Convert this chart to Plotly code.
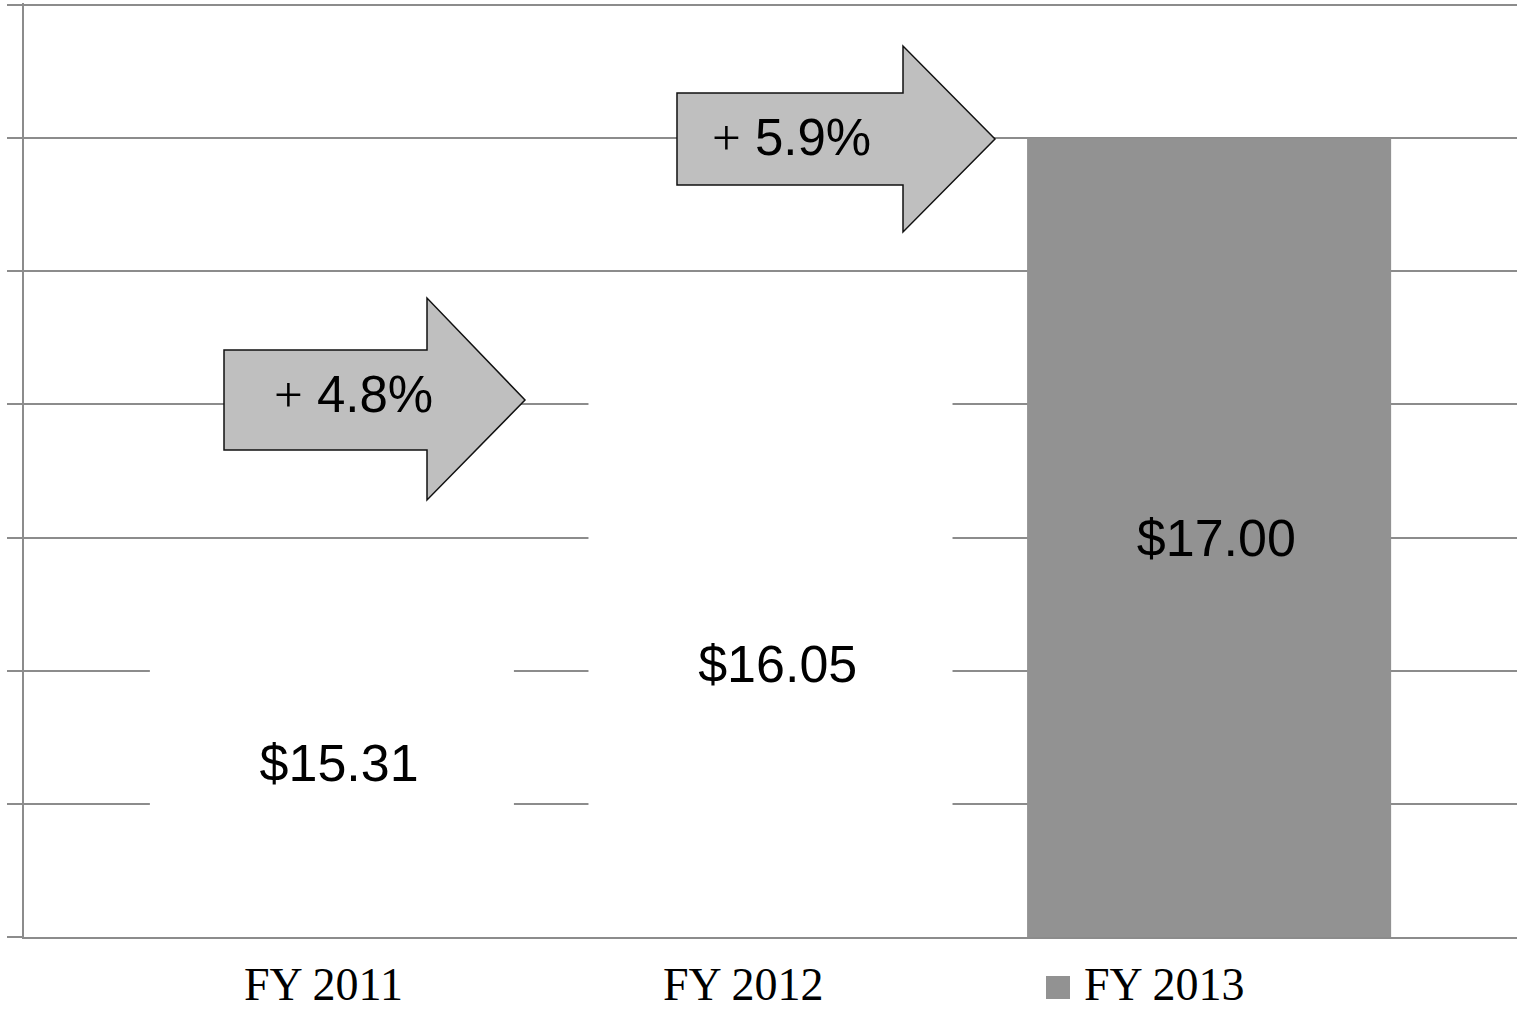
import plotly.graph_objects as go

# ---- data ----
categories = ["FY 2011", "FY 2012", "FY 2013"]
values = [15.31, 16.05, 17.00]
bar_colors = ["#ffffff", "#ffffff", "#929292"]
growth_labels = ["4.8%", "5.9%"]
y_min, y_max, y_step = 14.0, 17.5, 0.5

W, H = 1528, 1011
ML, MR, MT, MB = 24, 11, 3, 74
PW, PH = W - ML - MR, H - MT - MB
PAD = 2 * (y_max - y_min) / (PH - 2)  # ~2px headroom so the top gridline shows


def px_to_paper(px, py):
    return (px - ML) / PW, (H - MB - py) / PH


def arrow_path(body_left, body_top, body_bottom, head_x, head_top, head_bottom, tip_x):
    tip_y = (body_top + body_bottom) / 2
    pts = [(body_left, body_top), (head_x, body_top), (head_x, head_top), (tip_x, tip_y),
           (head_x, head_bottom), (head_x, body_bottom), (body_left, body_bottom)]
    pp = [px_to_paper(x, y) for x, y in pts]
    return "M " + " L ".join(f"{x:.5f},{y:.5f}" for x, y in pp) + " Z"


fig = go.Figure()
fig.add_trace(go.Bar(
    x=categories, y=[v - y_min for v in values], base=y_min,
    marker=dict(color=bar_colors, line=dict(width=0)),
    width=0.83,
    text=["\u00a0" + f"${v:.2f}" for v in values],
    textposition="inside", insidetextanchor="middle", textangle=0,
    textfont=dict(family="Liberation Sans, Arial", size=52, color="#000000"),
    showlegend=False, hoverinfo="skip",
))

shapes = [
    dict(type="path", xref="paper", yref="paper",
         path=arrow_path(224, 350, 450, 427, 298, 500, 525),
         fillcolor="#bfbfbf", line=dict(color="#111111", width=1.5), layer="above"),
    dict(type="path", xref="paper", yref="paper",
         path=arrow_path(677, 93, 185, 903, 46, 232, 995),
         fillcolor="#bfbfbf", line=dict(color="#111111", width=1.5), layer="above"),
    # legend-like square before FY 2013
    dict(type="rect", xref="paper", yref="paper",
         x0=(1046 - ML) / PW, x1=(1070 - ML) / PW,
         y0=(H - MB - 999) / PH, y1=(H - MB - 976) / PH,
         fillcolor="#929292", line=dict(width=0)),
]

annotations = []
# growth labels on arrows
for lab, (cx, cy) in zip(growth_labels, [(353, 395), (792, 138)]):
    xp, yp = px_to_paper(cx, cy)
    annotations.append(dict(
        xref="paper", yref="paper", x=xp, y=yp, xanchor="center", yanchor="middle",
        text=f"<span style='font-family:Liberation Serif'>+</span> {lab}",
        showarrow=False, font=dict(family="Liberation Sans, Arial", size=51, color="#000000")))

# category labels (box bottom kept at the figure's bottom edge)
lab_font = dict(family="Liberation Serif, Times New Roman", size=46, color="#000000")
for cat, shift in zip(categories, [-8, -27, 0]):
    if cat == "FY 2013":
        xp, _ = px_to_paper(1164, 0)
        annotations.append(dict(xref="paper", yref="paper", x=xp, y=0, yshift=-MB, borderpad=0,
                                xanchor="center", yanchor="bottom", text=cat, showarrow=False,
                                font=lab_font))
    else:
        annotations.append(dict(xref="x", yref="paper", x=cat, y=0, xshift=shift, yshift=-MB,
                                borderpad=0, xanchor="center", yanchor="bottom", text=cat,
                                showarrow=False, font=lab_font))

fig.update_layout(
    width=W, height=H,
    margin=dict(l=ML, r=MR, t=MT, b=MB),
    paper_bgcolor="#ffffff", plot_bgcolor="#ffffff",
    shapes=shapes, annotations=annotations,
    bargap=0.17,
)
fig.update_xaxes(
    type="category", range=[-0.702, 2.702],
    showticklabels=False, ticks="", showgrid=False,
    showline=True, linecolor="#8c8c8c", linewidth=1.5, zeroline=False,
)
fig.update_yaxes(
    range=[y_min, y_max + PAD], dtick=y_step, tick0=y_min,
    showticklabels=False, ticks="outside", ticklen=15, tickcolor="#8c8c8c", tickwidth=1.5,
    showgrid=True, gridcolor="#8c8c8c", gridwidth=1.5,
    showline=True, linecolor="#8c8c8c", linewidth=1.5, zeroline=False,
)

fig.write_html("out.html", config={"displayModeBar": False},
               post_script="document.body.style.margin='0px';")
